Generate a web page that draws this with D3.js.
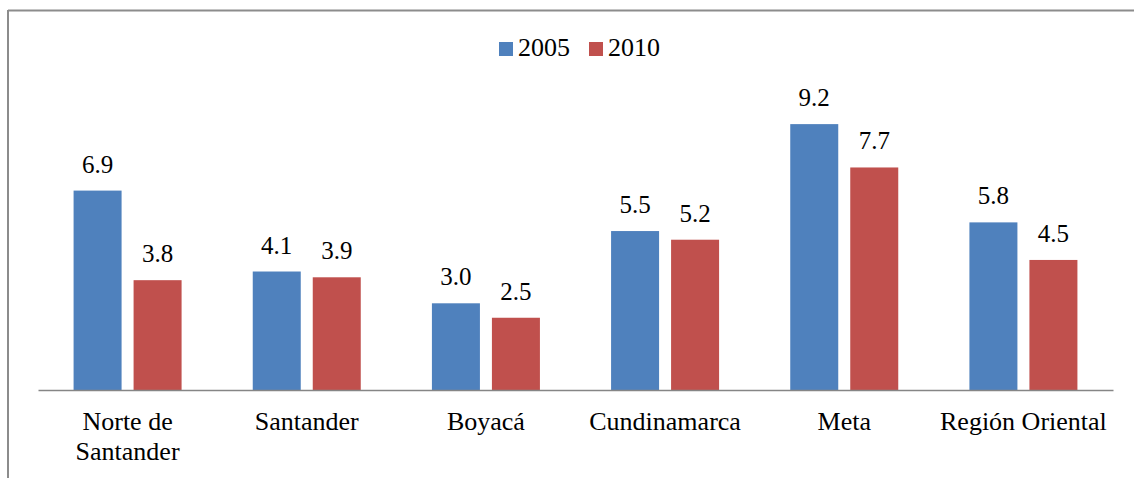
<!DOCTYPE html>
<html>
<head>
<meta charset="utf-8">
<script src="https://cdn.jsdelivr.net/npm/d3@7"></script>
</head>
<body style="margin:0">
<svg id="chart" width="1134" height="478" font-family="Liberation Serif"></svg>
<script>
const categories = ['Norte de\nSantander', 'Santander', 'Boyacá', 'Cundinamarca', 'Meta', 'Región Oriental'];
const seriesNames = ['2005', '2010'];
const values2005 = [6.9, 4.1, 3.0, 5.5, 9.2, 5.8];
const values2010 = [3.8, 3.9, 2.5, 5.2, 7.7, 4.5];
const colors = ['#4F81BD', '#C0504D'];
const serif = 'Liberation Serif';

const svg = d3.select('#chart');
const plot = {left: 38, right: 1113, top: 101, bottom: 390};

//frame of the chart area (only left and top sides are visible)
svg.append('line')
    .attr('x1', 8).attr('y1', 10.5).attr('x2', 1134).attr('y2', 10.5)
    .attr('stroke', '#8c8c8c').attr('stroke-width', 2);
svg.append('line')
    .attr('x1', 8).attr('y1', 10).attr('x2', 8).attr('y2', 478)
    .attr('stroke', '#8c8c8c').attr('stroke-width', 2);

const x0 = d3.scaleBand()
    .domain(categories)
    .range([plot.left, plot.right])
    .padding(0);
const x1 = d3.scaleBand()
    .domain(seriesNames)
    .range([0, x0.bandwidth()])
    .paddingInner(0.2)
    .paddingOuter(0.593);
const y = d3.scaleLinear()
    .domain([0, 10])
    .range([plot.bottom, plot.top]);

const seriesData = [values2005, values2010];

seriesNames.forEach((name, si) => {
    const g = svg.append('g').attr('class', `series s${name}`);
    const data = categories.map((c, i) => ({c, v: seriesData[si][i]}));
    g.selectAll('rect')
        .data(data)
        .enter().append('rect')
        .attr('x', d => x0(d.c) + x1(name))
        .attr('y', d => y(d.v))
        .attr('width', x1.bandwidth())
        .attr('height', d => y(0) - y(d.v))
        .attr('fill', colors[si]);
    g.selectAll('text')
        .data(data)
        .enter().append('text')
        .attr('x', d => x0(d.c) + x1(name) + x1.bandwidth() / 2)
        .attr('y', d => y(d.v) - 18)
        .attr('text-anchor', 'middle')
        .style('font-family', serif)
        .style('font-size', '25px')
        .text(d => d3.format('.1f')(d.v));
});

//x axis line only
const xAxis = svg.append('g')
    .attr('transform', `translate(0, ${plot.bottom})`)
    .call(d3.axisBottom(x0).tickSize(0).tickFormat(''));
xAxis.select('.domain').attr('stroke', '#868686').attr('stroke-width', 1.5);

const labels = svg.append('g').attr('class', 'xlabels');
categories.forEach(c => {
    c.split('\n').forEach((line, i) => {
        labels.append('text')
            .attr('x', x0(c) + x0.bandwidth() / 2)
            .attr('y', 430 + i * 30)
            .attr('text-anchor', 'middle')
            .style('font-family', serif)
            .style('font-size', '26px')
            .text(line);
    });
});

//legend
const legend = svg.append('g').attr('class', 'legend');
const legendX = [499, 589];
seriesNames.forEach((name, i) => {
    legend.append('rect')
        .attr('x', legendX[i]).attr('y', 42)
        .attr('width', 14).attr('height', 14)
        .attr('fill', colors[i]);
    legend.append('text')
        .attr('x', legendX[i] + 19).attr('y', 56)
        .style('font-family', serif)
        .style('font-size', '26px')
        .text(name);
});
</script>
</body>
</html>
